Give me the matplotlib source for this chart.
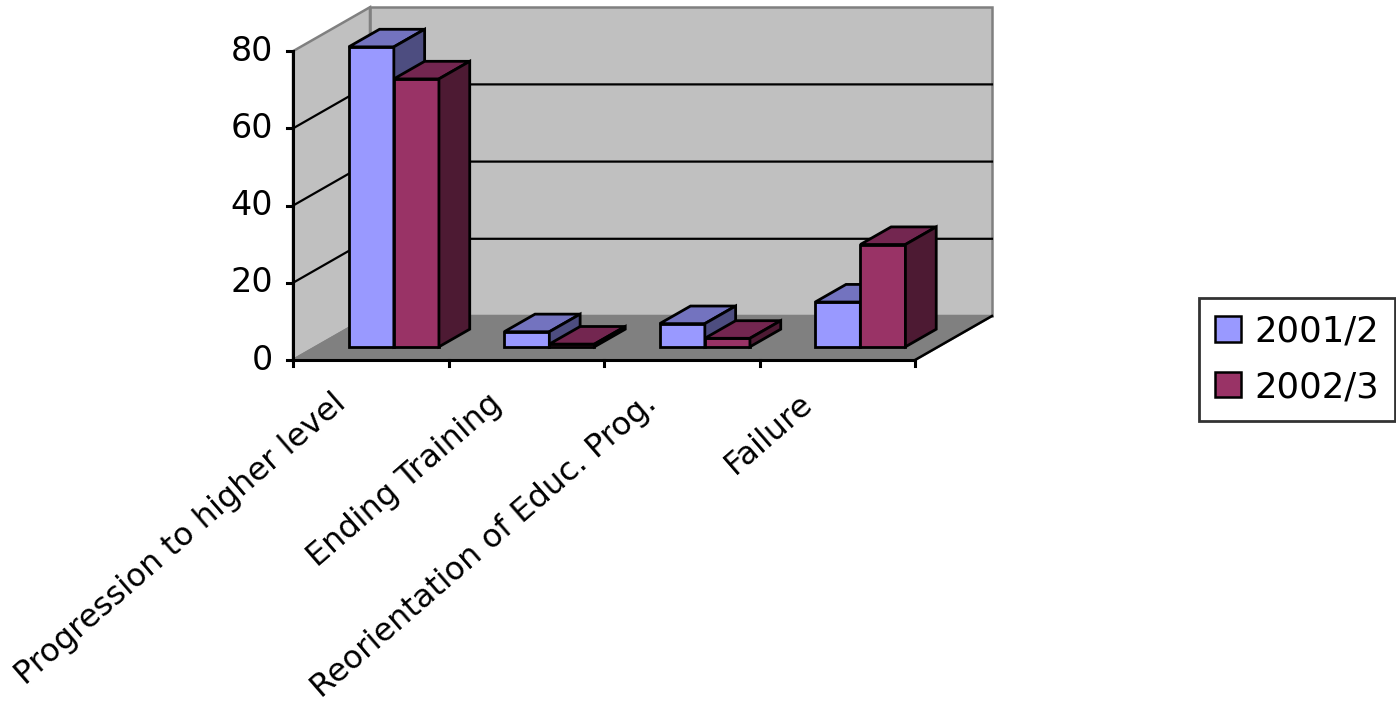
import matplotlib.pyplot as plt
from matplotlib.patches import Polygon, Patch

# data
categories = ['Progression to higher level', 'Ending Training',
              'Reorientation of Educ. Prog.', 'Failure']
series_names = ['2001/2', '2002/3']
values_2001 = [77.7, 3.9, 6.0, 11.6]
values_2002 = [69.4, 0.7, 2.2, 26.5]
y_ticks = [0, 20, 40, 60, 80]

# colours (front, top, side)
blue = ('#9999FF', '#7373BF', '#4D4D80')
red = ('#993366', '#732650', '#4D1A33')
wall = '#C0C0C0'
floor = '#808080'
edge = '#808080'

# oblique projection: u in category units, v in value units, d in depth 0..1
DX = 0.495
DY = 11.4
ymax = 80
ncat = len(categories)


def P(u, v, d):
    return (u + d * DX, v + d * DY)


fig = plt.figure(figsize=(13.96, 7.07), dpi=100)
ax = fig.add_axes([0, 0, 1, 1])
ax.set_xlim(-293 / 155.5, (1396 - 293) / 155.5)
ax.set_ylim((360 - 707) / 3.86, 360 / 3.86)
ax.axis('off')


def poly(pts, fc, ec, lw, z):
    ax.add_patch(Polygon(pts, closed=True, facecolor=fc, edgecolor=ec,
                         linewidth=lw, joinstyle='miter', zorder=z))


# walls and floor
poly([P(0, 0, 1), P(ncat, 0, 1), P(ncat, ymax, 1), P(0, ymax, 1)], wall, edge, 1.8, 1)
poly([P(0, 0, 0), P(0, 0, 1), P(0, ymax, 1), P(0, ymax, 0)], wall, edge, 1.8, 1)
poly([P(0, 0, 0), P(ncat, 0, 0), P(ncat, 0, 1), P(0, 0, 1)], floor, edge, 1.8, 1)

# gridlines
for t in y_ticks[1:-1]:
    a, b, c = P(0, t, 0), P(0, t, 1), P(ncat, t, 1)
    ax.plot([a[0], b[0], c[0]], [a[1], b[1], c[1]], color='black', lw=1.6, zorder=2)

# floor right edge and axes
a, b = P(ncat, 0, 0), P(ncat, 0, 1)
ax.plot([a[0], b[0]], [a[1], b[1]], color='black', lw=1.8, zorder=2)
ax.plot([0, ncat], [0, 0], color='black', lw=2.2, zorder=2)
ax.plot([0, 0], [0, ymax], color='black', lw=2.2, zorder=2)

for t in y_ticks:
    ax.plot([-0.04, 0], [t, t], color='black', lw=2.2, zorder=2)
    ax.text(-0.13, t, str(t), ha='right', va='center', fontsize=24,
            family='DejaVu Sans')
for i in range(ncat + 1):
    ax.plot([i, i], [0, -1.6], color='black', lw=2.2, zorder=2)


# bars
def bar3d(u0, u1, h, cols, z):
    d0, d1 = 0.3, 0.7
    poly([P(u0, 0, d0), P(u1, 0, d0), P(u1, h, d0), P(u0, h, d0)], cols[0], 'black', 2.0, z)
    poly([P(u0, h, d0), P(u1, h, d0), P(u1, h, d1), P(u0, h, d1)], cols[1], 'black', 2.0, z)
    poly([P(u1, 0, d0), P(u1, 0, d1), P(u1, h, d1), P(u1, h, d0)], cols[2], 'black', 2.0, z)


w = 0.29
for i in range(ncat):
    bar3d(i + 0.5 - w, i + 0.5, values_2001[i], blue, 3 + 2 * i)
    bar3d(i + 0.5, i + 0.5 + w, values_2002[i], red, 4 + 2 * i)

# category labels
for i, lab in enumerate(categories):
    ax.text(i + 0.5 - 0.25, -7.2, lab, rotation=41, rotation_mode='anchor',
            ha='right', va='top', fontsize=23, family='DejaVu Sans')

# legend
handles = [Patch(facecolor=blue[0], edgecolor='black', linewidth=1.8),
           Patch(facecolor=red[0], edgecolor='black', linewidth=1.8)]
leg = ax.legend(handles, series_names, loc='upper left',
                bbox_to_anchor=(1199 / 1396, 1 - 298 / 707),
                bbox_transform=fig.transFigure, borderaxespad=0,
                prop={'family': 'DejaVu Sans', 'size': 25.5},
                handlelength=0.72, handleheight=0.72, handletextpad=0.37,
                labelspacing=0.62, borderpad=0.46, fancybox=False)
leg.get_frame().set_edgecolor('black')
leg.get_frame().set_linewidth(2)

fig.savefig('out.png', dpi=100, facecolor='white')
